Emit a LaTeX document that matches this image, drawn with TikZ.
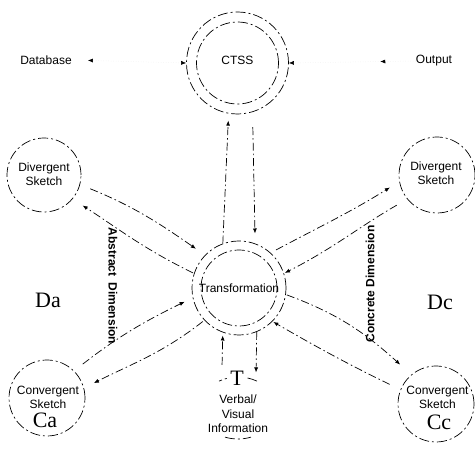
\documentclass[tikz,border=0pt]{standalone}
\usepackage{fontspec}
\setmainfont{Liberation Sans}
\newfontfamily\bigserif{Liberation Serif}
\usetikzlibrary{arrows.meta,decorations.markings,shapes.geometric,calc}
\begin{document}
\begin{tikzpicture}[x=1pt,y=1pt,
  every node/.style={font=\fontsize{12}{14.5}\selectfont, align=center, inner sep=0pt},
  ring/.style={circle, draw, line width=0.7pt, dash pattern=on 10pt off 3pt on 2pt off 3pt},
  ringline/.style={line width=0.7pt, dash pattern=on 10pt off 3pt on 2pt off 3pt},
  conn/.style={line width=0.7pt, dash pattern=on 8pt off 3pt on 1.5pt off 3pt, -{Latex[length=5pt,width=4pt]}},
  letter/.style={font=\bigserif\fontsize{22}{22}\selectfont},
  dim/.style={font=\bfseries\fontsize{12}{14}\selectfont},
  ghost/.style={draw=black!8, line width=0.5pt, dotted}
]
\useasboundingbox (0,0) rectangle (475,450);

% CTSS
\node[ring, minimum size=102pt] (ctss) at (237.5,387) {};
\node[ring, minimum size=82pt] (ctssi) at (237.5,387) {};
\node (ctsst) at (237.5,390) {CTSS};
\node (db) at (46,390) {Database};
\node (out) at (434,389) {Output};

\draw[ghost, {Latex[color=black,length=5pt,width=4pt]}-{Latex[color=black,length=5pt,width=4pt]}, shorten >=16pt] (ctss.west) -- (db.east);
\draw[ghost, -{Latex[color=black,length=5pt,width=4pt]},
  postaction={decorate},
  decoration={markings, mark=at position 0.28 with {\arrow{Latex[color=black,length=5pt,width=4pt]}}}]
  (out.west) -- (ctss.east);

% Transformation
\node[ring, minimum size=94pt] (tr) at (239,162) {};
\node[ring, minimum size=76pt] (tri) at (239,162) {};
\node (trt) at (239,162) {Transformation};

% Sketch circles
\node[ring, minimum size=74pt] (dl) at (44,275) {};
\node[ring, minimum size=76pt] (dr) at (437,275) {};
\node[ring, minimum size=76pt] (cl) at (47,52) {};
\node[ring, minimum size=76pt] (cr) at (436,46) {};

\node (dlt) at (44,276) {Divergent\\Sketch};
\node (drt) at (436,277) {Divergent\\Sketch};
\node (clt) at (48,52.5) {Convergent\\Sketch};
\node (crt) at (437.5,52.5) {Convergent\\Sketch};
\node[letter] (ca) at (45,30) {Ca};
\node[letter] (cc) at (439,28) {Cc};
\node[letter] (da) at (48,150) {Da};
\node[letter] (dc) at (440,148) {Dc};

\node[dim, rotate=-90] (abs) at (113,164) {Abstract\hspace{6pt}Dimension};
\node[dim, rotate=90] (con) at (370,166) {Concrete Dimension};

% Verbal / Visual information
\node[ellipse, minimum width=76pt, minimum height=62pt] (vv) at (238,42) {};
\draw[ringline] ($(vv.center)+(60:38 and 31)$) arc[start angle=60,end angle=120,x radius=38,y radius=31];
\draw[ringline] ($(vv.center)+(250:38 and 31)$) arc[start angle=250,end angle=290,x radius=38,y radius=31];
\node[letter, fill=white, inner sep=1pt] (tt) at (237,72) {T};
\node (vvt) at (238,36) {Verbal/\\Visual\\Information};

% left connectors
\draw[conn, shorten <=11pt, shorten >=11pt] (dl.-15) to[out=-22,in=145] (tr.136);
\draw[conn, shorten <=1pt, shorten >=12pt] (tr.162) to[out=154,in=-33] (dl.-40);
\draw[conn, shorten <=11pt, shorten >=9pt] (cl.45) to[out=38,in=206] (tr.192);
\draw[conn, shorten <=2pt, shorten >=11pt] (tr.223) to[out=218,in=27] (cl.15);

% right connectors
\draw[conn, shorten <=6pt, shorten >=11pt] (tr.48) to[out=28,in=212] (dr.190);
\draw[conn, shorten <=12pt, shorten >=1pt] (dr.219) to[out=210,in=27] (tr.18);
\draw[conn, shorten <=1pt, shorten >=15pt] (tr.-8) to[out=-20,in=138] (cr.130);
\draw[conn, shorten <=12pt, shorten >=1pt] (cr.158) to[out=154,in=-30] (tr.-45);

% vertical connectors
\draw[conn, shorten >=7pt] (tr.110) -- (ctss.260);
\draw[conn, shorten <=15pt, shorten >=10pt] (ctss.287) -- (tr.70);
\draw[conn, shorten <=15pt, shorten >=3pt] (vv.120) -- (tr.250);
\draw[conn, shorten >=8pt] (tr.292) -- (vv.57);
\end{tikzpicture}
\end{document}
